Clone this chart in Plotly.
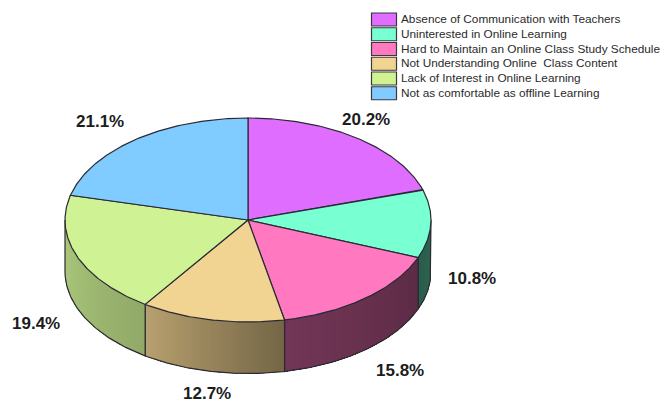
import numpy as np
import plotly.graph_objects as go

categories = [
    "Absence of Communication with Teachers",
    "Uninterested in Online Learning",
    "Hard to Maintain an Online Class Study Schedule",
    "Not Understanding Online  Class Content",
    "Lack of Interest in Online Learning",
    "Not as comfortable as offline Learning",
]
shares = [20.2, 10.8, 15.8, 12.7, 19.4, 21.1]
top_colors = ["#DF6DFF", "#78FFD2", "#FF78C0", "#F2D492", "#CFF295", "#80CBFF"]
# brightness of each slice's rim at its clockwise start and end
rim_shade = [(0.4, 0.4), (0.40, 0.36), (0.36, 0.45), (0.48, 0.76), (0.70, 0.84), (0.84, 0.84)]
label_positions = [(366, 119), (472, 278), (400, 370), (207, 393), (36, 323), (100, 121)]

CX, CY, RX, RY, DEPTH = 248, 220, 183, 102, 51.5
OUTLINE = "#2a2a33"
W, H = 661, 403


def rgb(hex_color):
    return np.array([int(hex_color[i:i + 2], 16) for i in (1, 3, 5)], dtype=float)


def rim(theta):
    """Ellipse point for an angle measured clockwise from twelve o'clock."""
    return CX + RX * np.sin(theta), CY - RY * np.cos(theta)


edges = np.concatenate([[0], np.cumsum(shares)]) / sum(shares) * 2 * np.pi
fig = go.Figure()


def add_poly(x, y, fill=None, line=OUTLINE, width=1.2):
    fig.add_trace(go.Scatter(
        x=x, y=y, mode="lines", hoverinfo="skip", showlegend=False,
        fill="toself" if fill else None, fillcolor=fill,
        line=dict(color=line, width=width),
    ))


# Side wall: overlapping strips along the front half, shaded across each slice
for i, color in enumerate(top_colors):
    a0, a1 = max(edges[i], np.pi / 2), min(edges[i + 1], 3 * np.pi / 2)
    if a1 <= a0:
        continue
    n = max(2, int(np.degrees(a1 - a0)))
    cuts = np.linspace(a0, a1, n + 1)
    for j in range(n):
        t = (j + 0.5) / n
        s = rim_shade[i][0] + (rim_shade[i][1] - rim_shade[i][0]) * t
        c = rgb(color) * s
        css = f"rgb({c[0]:.0f},{c[1]:.0f},{c[2]:.0f})"
        # each strip runs on to the slice's far end, the next one paints over it
        th = np.linspace(cuts[j], a1, max(3, (n - j) + 1))
        x, y = rim(th)
        add_poly(np.r_[x, x[::-1], x[0]], np.r_[y, y[::-1] + DEPTH, y[0]], fill=css, line=css, width=0)
    th = np.linspace(a0, a1, 80)
    x, y = rim(th)
    add_poly(np.r_[x[0], x[0], x, x[-1]], np.r_[y[0], y[0] + DEPTH, y + DEPTH, y[-1]])

# Top surface
for i, color in enumerate(top_colors):
    th = np.linspace(edges[i], edges[i + 1], 120)
    x, y = rim(th)
    add_poly(np.r_[CX, x, CX], np.r_[CY, y, CY], fill=color)

# Percentage labels
for share, (lx, ly) in zip(shares, label_positions):
    fig.add_annotation(x=lx, y=ly, text=f"<b>{share:.1f}%</b>", showarrow=False,
                       font=dict(family="Liberation Sans", size=17, color="#1c1c1c"))

# Key at the upper right
shapes = []
for i, (name, color) in enumerate(zip(categories, top_colors)):
    y0 = 13 + i * 14.75
    shapes.append(dict(type="rect", x0=371.5, x1=396.5, y0=y0, y1=y0 + 13, fillcolor=color,
                       line=dict(color="#3a3a3a", width=1.2), layer="above"))
    fig.add_annotation(x=399, y=y0 + 6, text=name.replace("  ", "\u00a0 "), showarrow=False,
                       xanchor="left", font=dict(family="Liberation Sans", size=11.8, color="#2a2a2a"))

fig.update_layout(
    width=W, height=H, margin=dict(l=0, r=0, t=0, b=0), showlegend=False,
    paper_bgcolor="white", plot_bgcolor="white", shapes=shapes,
    xaxis=dict(range=[0, W], visible=False, fixedrange=True),
    yaxis=dict(range=[H, 0], visible=False, fixedrange=True),
)
fig.write_html("out.html", config={"displayModeBar": False})
